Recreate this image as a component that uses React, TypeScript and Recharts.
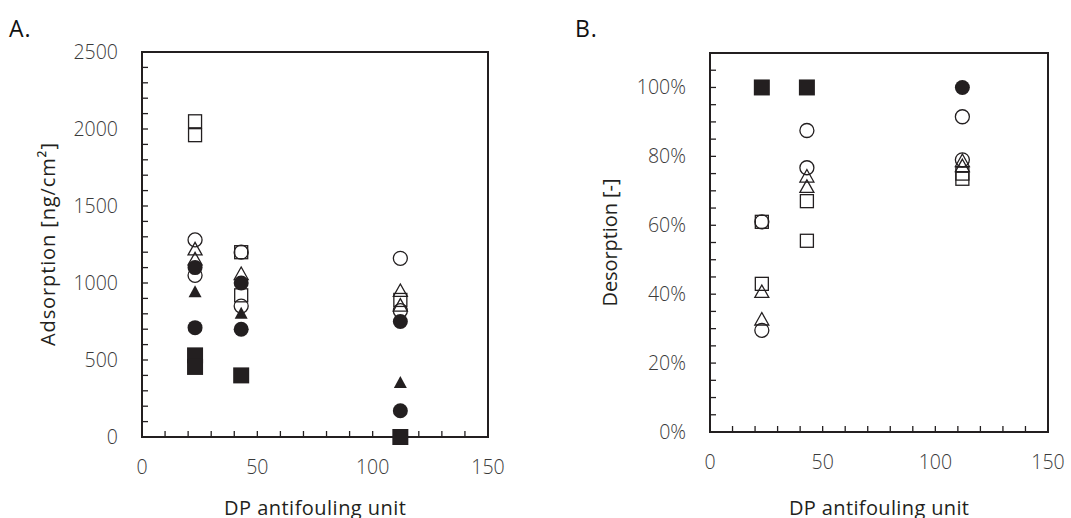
import React from 'react'
import { ScatterChart, Scatter, XAxis, YAxis, ReferenceArea, Label } from 'recharts'

const INK = '#231f20'
const TICK_TEXT = '#3a3a3a'
const FONT = '"Open Sans", "DejaVu Sans", sans-serif'

type Pt = { x: number; y: number }

// Panel A: adsorption [ng/cm2] vs DP of antifouling unit
const adsOpenSquare: Pt[] = [
  { x: 23, y: 2050 }, { x: 23, y: 1960 }, { x: 43, y: 1200 }, { x: 43, y: 920 }, { x: 112, y: 890 },
]
const adsOpenCircle: Pt[] = [
  { x: 23, y: 1280 }, { x: 23, y: 1050 }, { x: 43, y: 1200 }, { x: 43, y: 850 }, { x: 112, y: 1160 }, { x: 112, y: 820 },
]
const adsOpenTriangle: Pt[] = [
  { x: 23, y: 1215 }, { x: 23, y: 1150 }, { x: 43, y: 1055 }, { x: 112, y: 945 }, { x: 112, y: 850 },
]
const adsFilledCircle: Pt[] = [
  { x: 23, y: 1100 }, { x: 23, y: 710 }, { x: 43, y: 1000 }, { x: 43, y: 700 }, { x: 112, y: 750 }, { x: 112, y: 170 },
]
const adsFilledTriangle: Pt[] = [
  { x: 23, y: 940 }, { x: 43, y: 800 }, { x: 112, y: 350 },
]
const adsFilledSquare: Pt[] = [
  { x: 23, y: 530 }, { x: 23, y: 455 }, { x: 43, y: 400 }, { x: 112, y: 0 },
]

// Panel B: desorption fraction
const desOpenSquare: Pt[] = [
  { x: 23, y: 0.61 }, { x: 23, y: 0.43 }, { x: 43, y: 0.67 }, { x: 43, y: 0.555 }, { x: 112, y: 0.75 }, { x: 112, y: 0.735 },
]
const desOpenCircle: Pt[] = [
  { x: 23, y: 0.61 }, { x: 23, y: 0.295 }, { x: 43, y: 0.875 }, { x: 43, y: 0.767 }, { x: 112, y: 0.915 }, { x: 112, y: 0.79 },
]
const desOpenTriangle: Pt[] = [
  { x: 23, y: 0.405 }, { x: 23, y: 0.325 }, { x: 43, y: 0.74 }, { x: 43, y: 0.71 }, { x: 112, y: 0.785 }, { x: 112, y: 0.77 },
]
const desFilledCircle: Pt[] = [{ x: 112, y: 1.0 }]
const desFilledSquare: Pt[] = [{ x: 23, y: 1.0 }, { x: 43, y: 1.0 }]

// axis ticks
const xTicks = Array.from({ length: 16 }, (_, i) => i * 10)
const xLabels = [0, 50, 100, 150]
const adsTicks = Array.from({ length: 26 }, (_, i) => i * 100)
const adsLabels = [0, 500, 1000, 1500, 2000, 2500]
const desTicks = Array.from({ length: 23 }, (_, i) => Math.round(i * 5) / 100)
const desLabels = [0, 0.2, 0.4, 0.6, 0.8, 1.0]

const TICK_LEN = 6
const Y_GAP = 24
const X_GAP = 30

// marker shapes
const OpenSquare = ({ cx, cy }: any) => (
  <rect x={cx - 6.5} y={cy - 6.5} width={13} height={13} fill="none" stroke={INK} strokeWidth={1.3} />
)
const OpenCircle = ({ cx, cy }: any) => (
  <circle cx={cx} cy={cy} r={7} fill="none" stroke={INK} strokeWidth={1.3} />
)
const OpenTriangle = ({ cx, cy }: any) => (
  <path d={`M${cx},${cy - 7.5} L${cx + 7},${cy + 5} L${cx - 7},${cy + 5} Z`} fill="none" stroke={INK} strokeWidth={1.3} />
)
const FilledCircle = ({ cx, cy }: any) => <circle cx={cx} cy={cy} r={7.5} fill={INK} />
const FilledTriangle = ({ cx, cy }: any) => (
  <path d={`M${cx},${cy - 7} L${cx + 6.5},${cy + 5} L${cx - 6.5},${cy + 5} Z`} fill={INK} />
)
const FilledSquare = ({ cx, cy }: any) => <rect x={cx - 8} y={cy - 8} width={16} height={16} fill={INK} />

const isLabel = (labels: number[], v: number) => labels.some(l => Math.abs(l - v) < 1e-9)

const makeYTick = (labels: number[], fmt: (v: number) => string) => (props: any) => {
  const { x, y, payload } = props
  const ax = x + Y_GAP
  return (
    <g>
      <line x1={ax} x2={ax + TICK_LEN} y1={y} y2={y} stroke={INK} strokeWidth={1.3} />
      {isLabel(labels, payload.value) && (
        <text x={x} y={y} dy="0.35em" textAnchor="end" fill={TICK_TEXT} fontSize={19.5} fontFamily={FONT} fontWeight={300}>
          {fmt(payload.value)}
        </text>
      )}
    </g>
  )
}

const makeXTick = (labels: number[]) => (props: any) => {
  const { x, y, payload } = props
  const ay = y - X_GAP
  return (
    <g>
      <line x1={x} x2={x} y1={ay} y2={ay - TICK_LEN} stroke={INK} strokeWidth={1.3} />
      {isLabel(labels, payload.value) && (
        <text x={x} y={y} dy="0.35em" textAnchor="middle" fill={TICK_TEXT} fontSize={19.5} fontFamily={FONT} fontWeight={300}>
          {payload.value}
        </text>
      )}
    </g>
  )
}

const yTitle = (text: string, dx: number, len: number) => (props: any) => {
  const vb = props.viewBox
  const cx = vb.x + dx
  const cy = vb.y + vb.height / 2
  return (
    <text x={cx} y={cy} transform={`rotate(-90 ${cx} ${cy})`} textAnchor="middle" dy="0.35em"
      fill={INK} fontSize={20} fontFamily={FONT} textLength={len} lengthAdjust="spacing">
      {text}
    </text>
  )
}

const xTitle = (text: string, dy: number, len: number) => (props: any) => {
  const vb = props.viewBox
  const cx = vb.x + vb.width / 2
  return (
    <text x={cx} y={vb.y + dy} textAnchor="middle" fill={INK} fontSize={20} fontFamily={FONT}
      textLength={len} lengthAdjust="spacing">
      {text}
    </text>
  )
}

const PanelLabel = ({ text, left }: { text: string; left: number }) => (
  <div style={{ position: 'absolute', left, top: 17, fontSize: 23, lineHeight: 1, letterSpacing: 1, fontFamily: FONT, color: '#111' }}>
    {text}
  </div>
)

const pct = (v: number) => `${Math.round(v * 100)}%`

const App = () => {
  return (
    <div style={{ position: 'absolute', left: 0, top: 0, width: 1071, height: 518, background: '#fff', overflow: 'hidden' }}>
      <PanelLabel text="A." left={9} />
      <PanelLabel text="B." left={575} />

      {/* Panel A */}
      <div style={{ position: 'absolute', left: 0, top: 0 }}>
        <ScatterChart width={560} height={518} margin={{ top: 52, right: 72, bottom: 0, left: 0 }}>
          <XAxis type="number" dataKey="x" domain={[0, 150]} ticks={xTicks} interval={0}
            axisLine={false} tickLine={false} tickSize={0} tickMargin={X_GAP} height={81}
            tick={makeXTick(xLabels)}>
            <Label content={xTitle('DP antifouling unit', 78, 182)} />
          </XAxis>
          <YAxis type="number" dataKey="y" domain={[0, 2500]} ticks={adsTicks} interval={0}
            axisLine={false} tickLine={false} tickSize={0} tickMargin={Y_GAP} width={142}
            tick={makeYTick(adsLabels, v => String(v))}>
            <Label content={yTitle('Adsorption [ng/cm²]', 48, 203)} />
          </YAxis>
          <ReferenceArea x1={0} x2={150} y1={0} y2={2500} fill="none" stroke={INK} strokeWidth={2} fillOpacity={0} />
          <Scatter data={adsOpenSquare} shape={OpenSquare} isAnimationActive={false} />
          <Scatter data={adsOpenCircle} shape={OpenCircle} isAnimationActive={false} />
          <Scatter data={adsOpenTriangle} shape={OpenTriangle} isAnimationActive={false} />
          <Scatter data={adsFilledCircle} shape={FilledCircle} isAnimationActive={false} />
          <Scatter data={adsFilledTriangle} shape={FilledTriangle} isAnimationActive={false} />
          <Scatter data={adsFilledSquare} shape={FilledSquare} isAnimationActive={false} />
        </ScatterChart>
      </div>

      {/* Panel B */}
      <div style={{ position: 'absolute', left: 560, top: 0 }}>
        <ScatterChart width={511} height={518} margin={{ top: 53, right: 23, bottom: 0, left: 0 }}>
          <XAxis type="number" dataKey="x" domain={[0, 150]} ticks={xTicks} interval={0}
            axisLine={false} tickLine={false} tickSize={0} tickMargin={X_GAP} height={86}
            tick={makeXTick(xLabels)}>
            <Label content={xTitle('DP antifouling unit', 83, 180)} />
          </XAxis>
          <YAxis type="number" dataKey="y" domain={[0, 1.1]} ticks={desTicks} interval={0}
            axisLine={false} tickLine={false} tickSize={0} tickMargin={Y_GAP} width={150}
            tick={makeYTick(desLabels, pct)}>
            <Label content={yTitle('Desorption [-]', 50, 128)} />
          </YAxis>
          <ReferenceArea x1={0} x2={150} y1={0} y2={1.1} fill="none" stroke={INK} strokeWidth={2} fillOpacity={0} />
          <Scatter data={desOpenSquare} shape={OpenSquare} isAnimationActive={false} />
          <Scatter data={desOpenCircle} shape={OpenCircle} isAnimationActive={false} />
          <Scatter data={desOpenTriangle} shape={OpenTriangle} isAnimationActive={false} />
          <Scatter data={desFilledCircle} shape={FilledCircle} isAnimationActive={false} />
          <Scatter data={desFilledSquare} shape={FilledSquare} isAnimationActive={false} />
        </ScatterChart>
      </div>
    </div>
  )
}

export default App
